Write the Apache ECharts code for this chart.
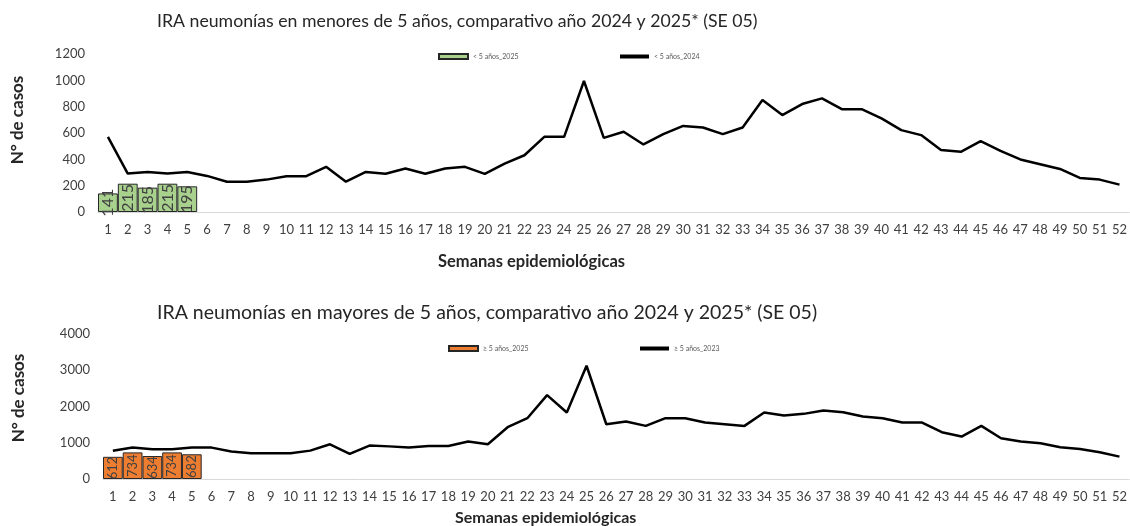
<!DOCTYPE html>
<html>
<head>
<meta charset="utf-8">
<title>IRA neumonías</title>
<script src="https://cdn.jsdelivr.net/npm/echarts@6/dist/echarts.min.js"></script>
<style>
  html, body { margin: 0; padding: 0; background: #fff; }
  #chart { width: 1130px; height: 526px; }
</style>
</head>
<body>
<div id="chart"></div>
<script>
// semanas epidemiologicas
var semanas = ['1', '2', '3', '4', '5', '6', '7', '8', '9', '10', '11', '12', '13',
  '14', '15', '16', '17', '18', '19', '20', '21', '22', '23', '24', '25', '26',
  '27', '28', '29', '30', '31', '32', '33', '34', '35', '36', '37', '38', '39',
  '40', '41', '42', '43', '44', '45', '46', '47', '48', '49', '50', '51', '52'];

// menores de 5 años
var menores2025 = [141, 215, 185, 215, 195];
var menores2024 = [570, 292, 304, 292, 304, 274, 230, 230, 246, 272, 272, 343, 230,
  304, 290, 330, 290, 330, 343, 290, 368, 431, 571, 571, 995, 563,
  609, 513, 591, 654, 642, 591, 642, 850, 736, 820, 863, 781, 781,
  711, 622, 584, 470, 457, 538, 464, 399, 363, 327, 259, 246, 208];

// mayores de 5 años
var mayores2025 = [612, 734, 634, 734, 682];
var mayores2024 = [780, 866, 820, 820, 866, 866, 756, 710, 710, 710, 783, 958, 691,
  921, 900, 866, 912, 912, 1032, 958, 1429, 1677, 2313, 1834, 3124, 1511,
  1585, 1465, 1677, 1677, 1557, 1511, 1465, 1834, 1751, 1797, 1889, 1843, 1723,
  1677, 1557, 1557, 1290, 1170, 1465, 1124, 1032, 986, 876, 829, 737, 617];

var yTicksMenores = [0, 1200, 200];
var yTicksMayores = [0, 4000, 1000];

var font = 'Lato';
var gris = '#404040';

var myChart = echarts.init(document.getElementById('chart'));

var xAxisBase = function (grid) {
  return {
    type: 'category',
    gridIndex: grid,
    data: semanas,
    axisLine: { lineStyle: { color: '#d9d9d9', width: 1 } },
    axisTick: { show: false },
    axisLabel: { interval: 0, margin: 11, fontSize: 13, color: gris, fontFamily: font }
  };
};
var yAxisBase = function (grid, t) {
  return {
    type: 'value',
    gridIndex: grid,
    min: t[0], max: t[1], interval: t[2],
    axisLine: { show: false },
    axisTick: { show: false },
    splitLine: { show: false },
    axisLabel: {
      margin: 13, fontSize: 13, color: gris, fontFamily: font,
      formatter: function (v) { return String(v); }
    }
  };
};

var option = {
  animation: false,
  backgroundColor: '#fff',
  title: [
    {
      text: 'IRA neumonías en menores de 5 años, comparativo año 2024 y 2025* (SE 05)',
      left: 152, top: 7,
      textStyle: { fontSize: 17.7, fontWeight: 'normal', color: '#262626', fontFamily: font }
    },
    {
      text: 'IRA neumonías en mayores de 5 años, comparativo año 2024 y 2025* (SE 05)',
      left: 152, top: 298,
      textStyle: { fontSize: 19.5, fontWeight: 'normal', color: '#262626', fontFamily: font }
    },
    {
      text: 'Semanas epidemiológicas',
      left: 433, top: 248,
      textStyle: { fontSize: 16.5, fontWeight: 'bold', color: '#262626', fontFamily: font }
    },
    {
      text: 'Semanas epidemiológicas',
      left: 450, top: 505,
      textStyle: { fontSize: 16, fontWeight: 'bold', color: '#262626', fontFamily: font }
    }
  ],
  graphic: [
    {
      type: 'text', x: 18, y: 120, rotation: Math.PI / 2,
      style: { text: 'N° de casos', font: 'bold 17px Lato', fill: '#262626', align: 'center', verticalAlign: 'middle' }
    },
    {
      type: 'text', x: 19, y: 398, rotation: Math.PI / 2,
      style: { text: 'N° de casos', font: 'bold 17px Lato', fill: '#262626', align: 'center', verticalAlign: 'middle' }
    }
  ],
  legend: [
    { data: ['< 5 años_2025'], left: 433, top: 48, itemWidth: 29, itemHeight: 5, itemGap: 4, icon: 'rect',
      textStyle: { fontSize: 7, color: '#595959', fontFamily: font } },
    { data: ['< 5 años_2024'], left: 615, top: 48, itemWidth: 29, itemHeight: 4, itemGap: 4, icon: 'rect',
      textStyle: { fontSize: 7, color: '#595959', fontFamily: font } },
    { data: ['≥ 5 años_2025'], left: 443, top: 340, itemWidth: 29, itemHeight: 5, itemGap: 4, icon: 'rect',
      textStyle: { fontSize: 7, color: '#595959', fontFamily: font } },
    { data: ['≥ 5 años_2023'], left: 635, top: 340, itemWidth: 29, itemHeight: 4, itemGap: 4, icon: 'rect',
      textStyle: { fontSize: 7, color: '#595959', fontFamily: font } }
  ],
  grid: [
    { left: 98, right: -3, top: 54, height: 158 },
    { left: 103, right: 0, top: 334, height: 145 }
  ],
  xAxis: [xAxisBase(0), xAxisBase(1)],
  yAxis: [yAxisBase(0, yTicksMenores), yAxisBase(1, yTicksMayores)],
  series: [
    {
      name: '< 5 años_2025',
      type: 'bar',
      xAxisIndex: 0, yAxisIndex: 0,
      data: menores2025,
      barWidth: '100%',
      itemStyle: { color: '#a9d18e', borderColor: '#262626', borderWidth: 1 },
      label: { show: true, position: 'inside', rotate: 90, fontSize: 16, color: gris, fontFamily: font }
    },
    {
      name: '< 5 años_2024',
      type: 'line',
      xAxisIndex: 0, yAxisIndex: 0,
      data: menores2024,
      showSymbol: false,
      color: '#000',
      lineStyle: { color: '#000', width: 2.5 }
    },
    {
      name: '≥ 5 años_2025',
      type: 'bar',
      xAxisIndex: 1, yAxisIndex: 1,
      data: mayores2025,
      barWidth: '100%',
      itemStyle: { color: '#ed7d31', borderColor: '#262626', borderWidth: 1 },
      label: { show: true, position: 'inside', rotate: 90, fontSize: 13, color: gris, fontFamily: font }
    },
    {
      name: '≥ 5 años_2023',
      type: 'line',
      xAxisIndex: 1, yAxisIndex: 1,
      data: mayores2024,
      showSymbol: false,
      color: '#000',
      lineStyle: { color: '#000', width: 2.5 }
    }
  ]
};

myChart.setOption(option);
</script>
</body>
</html>
